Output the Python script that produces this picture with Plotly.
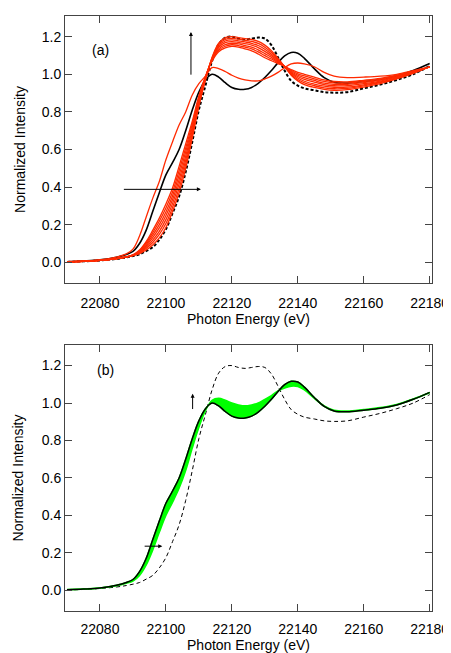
import plotly.graph_objects as go

energy = [22070, 22075, 22080, 22085, 22088, 22090, 22092, 22094, 22096, 22098,
          22100, 22102, 22104, 22106, 22108, 22110, 22112, 22114, 22116, 22118,
          22120, 22122, 22124, 22126, 22128, 22130, 22132, 22134, 22136, 22138,
          22140, 22142, 22145, 22148, 22151, 22155, 22160, 22165, 22170, 22175, 22180]

black_ref = [0.003, 0.007, 0.013, 0.027, 0.042, 0.058, 0.10, 0.17, 0.27, 0.37,
             0.465, 0.53, 0.60, 0.70, 0.81, 0.905, 0.97, 1.0, 0.985, 0.955,
             0.93, 0.92, 0.92, 0.93, 0.952, 0.983, 1.02, 1.062, 1.098, 1.116,
             1.112, 1.085, 1.03, 0.982, 0.958, 0.953, 0.962, 0.972, 0.99, 1.02, 1.057]

dashed_ref = [0.002, 0.005, 0.01, 0.018, 0.026, 0.033, 0.042, 0.06, 0.08, 0.12,
              0.175, 0.26, 0.35, 0.48, 0.64, 0.81, 0.94, 1.07, 1.16, 1.195,
              1.2, 1.19, 1.185, 1.19, 1.195, 1.19, 1.155, 1.09, 1.02, 0.965,
              0.94, 0.925, 0.915, 0.905, 0.902, 0.905, 0.925, 0.945, 0.97, 1.0, 1.045]

red_1 = [0.003, 0.007, 0.013, 0.028, 0.045, 0.07, 0.14, 0.24, 0.34, 0.43,
         0.545, 0.64, 0.73, 0.80, 0.89, 0.95, 0.99, 1.035, 1.03, 1.015,
         0.995, 0.98, 0.97, 0.965, 0.965, 0.975, 0.99, 1.01, 1.035, 1.055,
         1.06, 1.055, 1.04, 1.01, 0.99, 0.982, 0.985, 0.99, 1.0, 1.02, 1.04]

red_2 = [0.003, 0.006, 0.011, 0.020, 0.030, 0.040, 0.065, 0.110, 0.170, 0.235,
         0.310, 0.395, 0.510, 0.630, 0.750, 0.885, 0.990, 1.070, 1.120, 1.140,
         1.148, 1.145, 1.135, 1.125, 1.108, 1.088, 1.072, 1.057, 1.042, 1.025,
         1.010, 1.000, 0.985, 0.970, 0.962, 0.960, 0.968, 0.978, 0.995, 1.015, 1.040]

red_3 = [0.003, 0.006, 0.011, 0.020, 0.030, 0.039, 0.062, 0.103, 0.157, 0.218,
         0.289, 0.374, 0.487, 0.608, 0.735, 0.876, 0.987, 1.073, 1.128, 1.149,
         1.157, 1.153, 1.144, 1.135, 1.119, 1.099, 1.081, 1.062, 1.042, 1.020,
         1.002, 0.991, 0.976, 0.962, 0.954, 0.953, 0.962, 0.973, 0.992, 1.013, 1.040]

red_4 = [0.003, 0.006, 0.011, 0.020, 0.029, 0.038, 0.059, 0.095, 0.144, 0.200,
         0.268, 0.353, 0.463, 0.587, 0.720, 0.867, 0.983, 1.077, 1.135, 1.158,
         1.165, 1.162, 1.153, 1.145, 1.130, 1.110, 1.090, 1.066, 1.041, 1.015,
         0.995, 0.982, 0.967, 0.953, 0.946, 0.946, 0.956, 0.969, 0.988, 1.012, 1.040]

red_5 = [0.002, 0.006, 0.010, 0.019, 0.029, 0.038, 0.056, 0.088, 0.131, 0.183,
         0.248, 0.333, 0.440, 0.565, 0.705, 0.858, 0.980, 1.080, 1.143, 1.168,
         1.174, 1.170, 1.163, 1.155, 1.142, 1.122, 1.099, 1.071, 1.041, 1.010,
         0.988, 0.973, 0.958, 0.945, 0.939, 0.939, 0.950, 0.964, 0.985, 1.010, 1.040]

red_6 = [0.002, 0.005, 0.010, 0.019, 0.028, 0.037, 0.052, 0.080, 0.118, 0.165,
         0.227, 0.312, 0.417, 0.543, 0.690, 0.848, 0.977, 1.083, 1.150, 1.177,
         1.183, 1.178, 1.172, 1.165, 1.153, 1.133, 1.107, 1.076, 1.041, 1.005,
         0.980, 0.963, 0.948, 0.937, 0.931, 0.932, 0.944, 0.959, 0.982, 1.008, 1.040]

red_7 = [0.002, 0.005, 0.010, 0.019, 0.028, 0.036, 0.049, 0.073, 0.105, 0.148,
         0.206, 0.291, 0.393, 0.522, 0.675, 0.839, 0.973, 1.087, 1.158, 1.186,
         1.191, 1.187, 1.181, 1.175, 1.164, 1.144, 1.116, 1.080, 1.040, 1.000,
         0.972, 0.954, 0.939, 0.928, 0.923, 0.925, 0.938, 0.955, 0.978, 1.007, 1.040]

red_8 = [0.002, 0.005, 0.010, 0.019, 0.027, 0.035, 0.046, 0.065, 0.092, 0.130,
         0.185, 0.270, 0.370, 0.500, 0.660, 0.830, 0.970, 1.090, 1.165, 1.195,
         1.200, 1.195, 1.190, 1.185, 1.175, 1.155, 1.125, 1.085, 1.040, 0.995,
         0.965, 0.945, 0.930, 0.920, 0.915, 0.918, 0.932, 0.950, 0.975, 1.005, 1.040]

green_end = [0.005, 0.008, 0.013, 0.025, 0.038, 0.05, 0.08, 0.135, 0.215, 0.31,
             0.40, 0.47, 0.545, 0.64, 0.76, 0.87, 0.96, 1.015, 1.025, 1.015,
             1.0, 0.99, 0.985, 0.99, 1.0, 1.02, 1.04, 1.065, 1.08, 1.09,
             1.088, 1.07, 1.025, 0.985, 0.962, 0.958, 0.966, 0.976, 0.993, 1.022, 1.055]

x_ticks = [22080, 22100, 22120, 22140, 22160, 22180]
y_ticks = [0.0, 0.2, 0.4, 0.6, 0.8, 1.0, 1.2]

RED = "#ff2a00"
GREEN = "#00ff00"
FONT = "Liberation Sans, Arial, sans-serif"

fig = go.Figure()

# ---- panel (a)
fig.add_trace(go.Scatter(x=energy, y=dashed_ref, mode="lines", xaxis="x", yaxis="y",
                         line=dict(color="black", width=2, dash="3px,2px", shape="spline"),
                         showlegend=False))
fig.add_trace(go.Scatter(x=energy, y=black_ref, mode="lines", xaxis="x", yaxis="y",
                         line=dict(color="black", width=1.6, shape="spline"), showlegend=False))
for series in [red_1, red_2, red_3, red_4, red_5, red_6, red_7, red_8]:
    fig.add_trace(go.Scatter(x=energy, y=series, mode="lines", xaxis="x", yaxis="y",
                             line=dict(color=RED, width=1.3, shape="spline"), showlegend=False))

# ---- panel (b)
fig.add_trace(go.Scatter(x=energy, y=dashed_ref, mode="lines", xaxis="x2", yaxis="y2",
                         line=dict(color="black", width=1, dash="4px,3px", shape="spline"),
                         showlegend=False))
fig.add_trace(go.Scatter(x=energy, y=black_ref, mode="lines", xaxis="x2", yaxis="y2",
                         line=dict(color=GREEN, width=1.5, shape="spline"), showlegend=False))
fig.add_trace(go.Scatter(x=energy, y=green_end, mode="lines", xaxis="x2", yaxis="y2",
                         fill="tonexty", fillcolor=GREEN,
                         line=dict(color=GREEN, width=1.5, shape="spline"), showlegend=False))
fig.add_trace(go.Scatter(x=energy, y=black_ref, mode="lines", xaxis="x2", yaxis="y2",
                         line=dict(color="black", width=1.5, shape="spline"), showlegend=False))

axis_common = dict(showline=True, linecolor="#444444", linewidth=1, mirror="ticks",
                   ticks="inside", ticklen=7, tickcolor="#444444", showgrid=False,
                   zeroline=False, automargin=False,
                   tickfont=dict(family=FONT, size=14, color="black"))

xr = [22069.4, 22180.7]
yr = [-0.11, 1.31]

# the page body adds an 8px offset, so the figure is sized 8px smaller
fig.update_layout(
    width=443, height=645,
    margin=dict(l=57, r=19, t=8, b=42),
    paper_bgcolor="white", plot_bgcolor="white",
    font=dict(family=FONT, size=14, color="black"),
    xaxis=dict(domain=[0, 1], anchor="y", range=xr, tickvals=x_ticks,
               ticktext=[str(v) for v in x_ticks], ticklabelstandoff=7,
               title=dict(text="Photon Energy (eV)", standoff=0, font=dict(family=FONT, size=14)),
               **axis_common),
    yaxis=dict(domain=[0.5513, 1], anchor="x", range=yr, tickvals=y_ticks,
               tickformat=".1f",
               title=dict(text="Normalized Intensity", standoff=12, font=dict(family=FONT, size=14)),
               **axis_common),
    xaxis2=dict(domain=[0, 1], anchor="y2", range=xr, tickvals=x_ticks,
                ticktext=[str(v) for v in x_ticks], ticklabelstandoff=5,
                title=dict(text="Photon Energy (eV)", standoff=3, font=dict(family=FONT, size=14)),
                **axis_common),
    yaxis2=dict(domain=[0, 0.4471], anchor="x2", range=yr, tickvals=y_ticks,
                tickformat=".1f",
                title=dict(text="Normalized Intensity", standoff=14, font=dict(family=FONT, size=14)),
                **axis_common),
)

annotations = [
    dict(x=22110.6, y=0.388, ax=22086.8, ay=0.388, xref="x", yref="y", axref="x", ayref="y"),
    dict(x=22107.6, y=1.225, ax=22107.6, ay=0.99, xref="x", yref="y", axref="x", ayref="y"),
    dict(x=22098.9, y=0.236, ax=22093.1, ay=0.236, xref="x2", yref="y2", axref="x2", ayref="y2"),
    dict(x=22108.1, y=1.05, ax=22108.1, ay=0.96, xref="x2", yref="y2", axref="x2", ayref="y2"),
]
for a in annotations:
    fig.add_annotation(text="", showarrow=True, arrowhead=2, arrowsize=0.8, arrowwidth=1,
                       arrowcolor="black", standoff=0, startstandoff=0, **a)

fig.add_annotation(x=22080.3, y=1.13, xref="x", yref="y", text="(a)", showarrow=False,
                   font=dict(family=FONT, size=14, color="black"))
fig.add_annotation(x=22081.8, y=1.175, xref="x2", yref="y2", text="(b)", showarrow=False,
                   font=dict(family=FONT, size=14, color="black"))

fig.write_html("out.html")
